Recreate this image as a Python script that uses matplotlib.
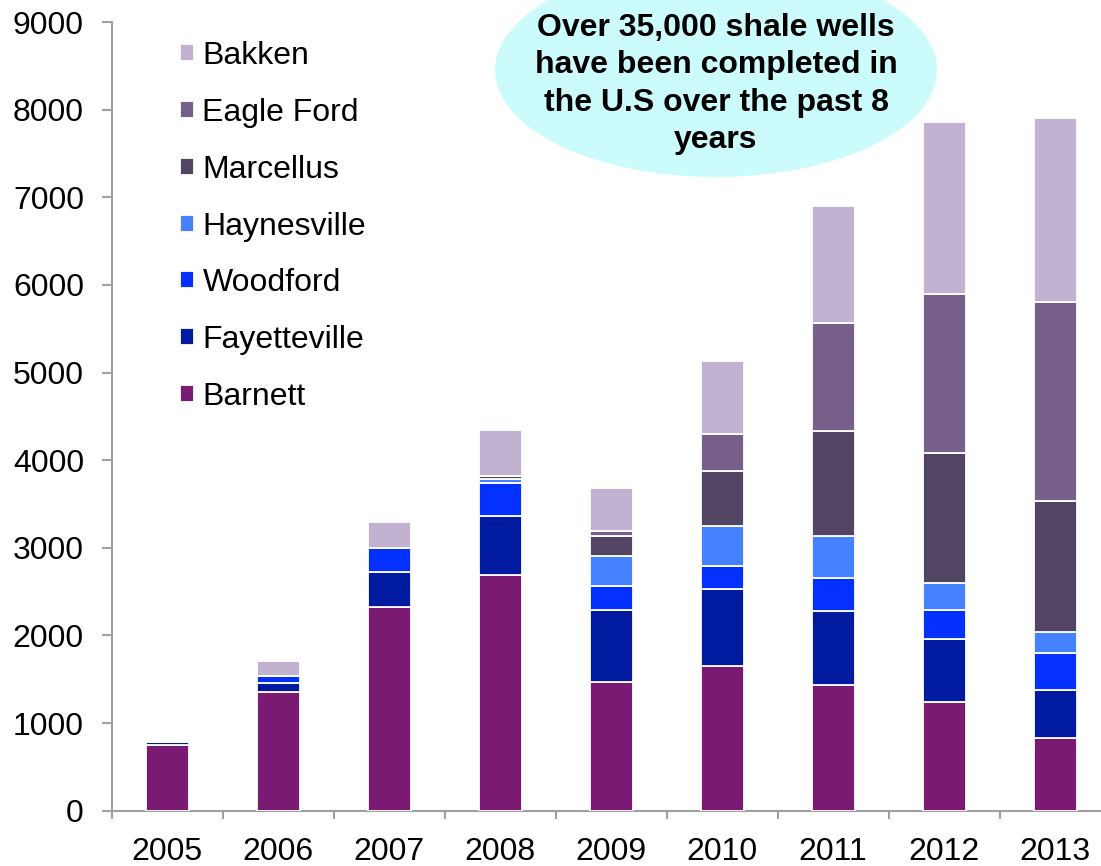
import numpy as np
import matplotlib
matplotlib.use("Agg")
import matplotlib.pyplot as plt
from matplotlib.patches import Ellipse

plt.rcParams["font.family"] = ["Liberation Sans", "DejaVu Sans"]

# ── data ─────────────────────────────────────────────────────────────
years = ["2005", "2006", "2007", "2008", "2009", "2010", "2011", "2012", "2013"]
barnett      = [745, 1350, 2325, 2685, 1465, 1655, 1440, 1240, 830]
fayetteville = [40, 110, 400, 675, 820, 870, 835, 720, 545]
woodford     = [0, 80, 275, 385, 275, 265, 385, 325, 430]
haynesville  = [0, 0, 0, 45, 350, 460, 470, 310, 235]
marcellus    = [0, 0, 0, 35, 220, 630, 1205, 1485, 1490]
eagle_ford   = [0, 0, 0, 0, 65, 420, 1230, 1815, 2270]
bakken       = [0, 170, 290, 515, 490, 835, 1330, 1965, 2110]

series = [
    ("Barnett", barnett, "#7B1A73"),
    ("Fayetteville", fayetteville, "#001BA0"),
    ("Woodford", woodford, "#0531FF"),
    ("Haynesville", haynesville, "#4482FF"),
    ("Marcellus", marcellus, "#524463"),
    ("Eagle Ford", eagle_ford, "#76608A"),
    ("Bakken", bakken, "#C2B2D2"),
]

callout = "Over 35,000 shale wells\nhave been completed in\nthe U.S over the past 8\nyears"

# ── chart ────────────────────────────────────────────────────────────
W, H = 1101, 866
FS = 23
fig = plt.figure(figsize=(W / 100, H / 100), dpi=100, facecolor="white")
ax = fig.add_axes([111.7 / W, 55.3 / H, 999 / W, 788.7 / H])

x = np.arange(len(years))
bottom = np.zeros(len(years))
handles = []
for name, vals, color in series:
    vals = np.array(vals, dtype=float)
    b = ax.bar(x, vals, width=0.39, bottom=bottom, color=color,
               edgecolor="white", linewidth=1.3, label=name, zorder=3)
    handles.append(b)
    bottom += vals

ax.set_xlim(-0.5, len(years) - 0.5)
ax.set_ylim(0, 9000)
ax.set_yticks(range(0, 9001, 1000))

ax.set_xticks(x)
ax.set_xticklabels(years)
ax.set_xticks(np.arange(-0.5, len(years), 1.0), minor=True)
ax.tick_params(axis="x", which="major", length=0, pad=19, labelsize=FS)
ax.tick_params(axis="x", which="minor", length=6, width=1.5, color="#A0A0A0")
ax.tick_params(axis="y", length=7, width=1.5, color="#A0A0A0", pad=13, labelsize=FS)

for side in ("top", "right"):
    ax.spines[side].set_visible(False)
for side in ("left", "bottom"):
    ax.spines[side].set_color("#A0A0A0")
    ax.spines[side].set_linewidth(1.5)

# legend: Bakken at top
leg = ax.legend(handles[::-1], [s[0] for s in series][::-1],
                loc="upper left", bbox_to_anchor=(180 / W, 1 - 41 / H),
                bbox_transform=fig.transFigure, frameon=False,
                fontsize=FS, handlelength=0.44, handleheight=0.44,
                handletextpad=0.26, labelspacing=0.84, borderpad=0,
                borderaxespad=0)

# callout bubble
ell = Ellipse((716 / W, 1 - 70 / H), 442 / W, 214 / H,
              transform=fig.transFigure, facecolor="#CCFBFC",
              edgecolor="none", zorder=5)
fig.add_artist(ell)
fig.text(716 / W, 1 - 84 / H, callout, ha="center", va="center",
         fontsize=FS, fontweight="bold", linespacing=1.33, zorder=6)

fig.savefig("out.png", dpi=100, facecolor="white")
